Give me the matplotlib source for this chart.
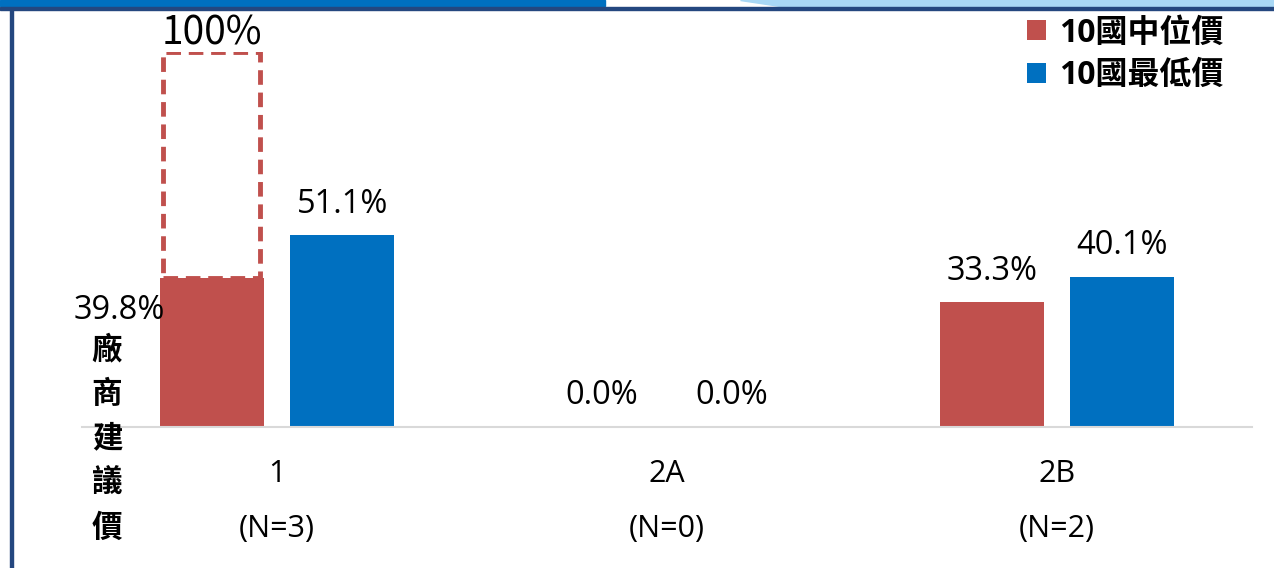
import numpy as np
import matplotlib.pyplot as plt
from matplotlib.patches import Rectangle, Polygon

plt.rcParams['font.family'] = ['Open Sans', 'Noto Sans CJK TC', 'DejaVu Sans']

# data
groups = ['1', '2A', '2B']
group_n = [3, 0, 2]
median_pct = [39.8, 0.0, 33.3]
lowest_pct = [51.1, 0.0, 40.1]
series_names = ['10國中位價', '10國最低價']
ref_pct = 100  # dashed reference bar for group 1
ylabel = '廠商建議價'

RED = '#C0504D'
BLUE = '#0070C0'

fig = plt.figure(figsize=(12.74, 5.68), dpi=100)

# frame decoration (slide-style border)
fig.patches.append(Rectangle((0, 568 - 6), 605, 6, transform=None, color=BLUE, zorder=0))
fig.patches.append(Polygon([[740, 568], [1274, 568], [1274, 559], [800, 559]],
                           closed=True, transform=None, color='#A9D8F5', zorder=0))
fig.patches.append(Rectangle((0, 568 - 10), 1274, 3, transform=None, color='#24477F', zorder=1))
fig.patches.append(Rectangle((10, 0), 3, 560, transform=None, color='#24477F', zorder=1))

ax = fig.add_axes([82 / 1274, (568 - 427) / 568, (1252 - 82) / 1274, (427 - 52) / 568])
ax.set_xlim(-0.5, 2.5)
ax.set_ylim(0, 100)

x = np.arange(len(groups))
w = 0.267
off = 0.167

ax.bar(x - off, median_pct, width=w, color=RED, label=series_names[0], zorder=2)
ax.bar(x + off, lowest_pct, width=w, color=BLUE, label=series_names[1], zorder=2)

# dashed outline for the 100% target of group 1
ax.bar(x[0] - off, ref_pct - median_pct[0], bottom=median_pct[0], width=w * 0.93,
       fill=False, edgecolor=RED, linestyle=(0, (3, 1.6)), linewidth=3.5, zorder=3)
ax.text(x[0] - off, ref_pct + 2, f'{ref_pct}%', ha='center', va='baseline',
        fontsize=28, family=['Noto Sans CJK TC'], clip_on=False)

# value labels
fs = 23.5
for i in range(len(groups)):
    if i == 0:
        ax.text(x[i] - off - w / 2 + 0.012, median_pct[i] - 11, f'{median_pct[i]:.1f}%',
                ha='right', va='baseline', fontsize=fs)
    else:
        ax.text(x[i] - off, median_pct[i] + 6, f'{median_pct[i]:.1f}%',
                ha='center', va='baseline', fontsize=fs)
    ax.text(x[i] + off, lowest_pct[i] + 6, f'{lowest_pct[i]:.1f}%',
            ha='center', va='baseline', fontsize=fs)

# category labels under the axis
ax.set_xticks([])
for i in range(len(groups)):
    ax.text(x[i], -14.7, groups[i], ha='center', va='baseline', fontsize=22, clip_on=False)
    ax.text(x[i], -29.3, f'(N={group_n[i]})', ha='center', va='baseline', fontsize=22,
            clip_on=False)

ax.set_yticks([])
for s in ['top', 'right', 'left']:
    ax.spines[s].set_visible(False)
ax.spines['bottom'].set_color('#D9D9D9')
ax.spines['bottom'].set_linewidth(1.5)

# vertical stacked y label
ys = np.linspace(349, 528, len(ylabel))
for ch, yy in zip(ylabel, ys):
    fig.text(107 / 1274, 1 - yy / 568, ch, ha='center', va='center',
             fontsize=22, fontweight='bold', family=['Noto Sans CJK TC'])

leg = ax.legend(loc='upper right', bbox_to_anchor=(1240 / 1274, 1.0),
                bbox_transform=fig.transFigure,
                frameon=False, fontsize=23, handlelength=0.6, handleheight=0.6,
                handletextpad=0.4, labelspacing=0.3, borderaxespad=0.12)
for t in leg.get_texts():
    t.set_fontweight('bold')

fig.savefig('out.png', dpi=100)
